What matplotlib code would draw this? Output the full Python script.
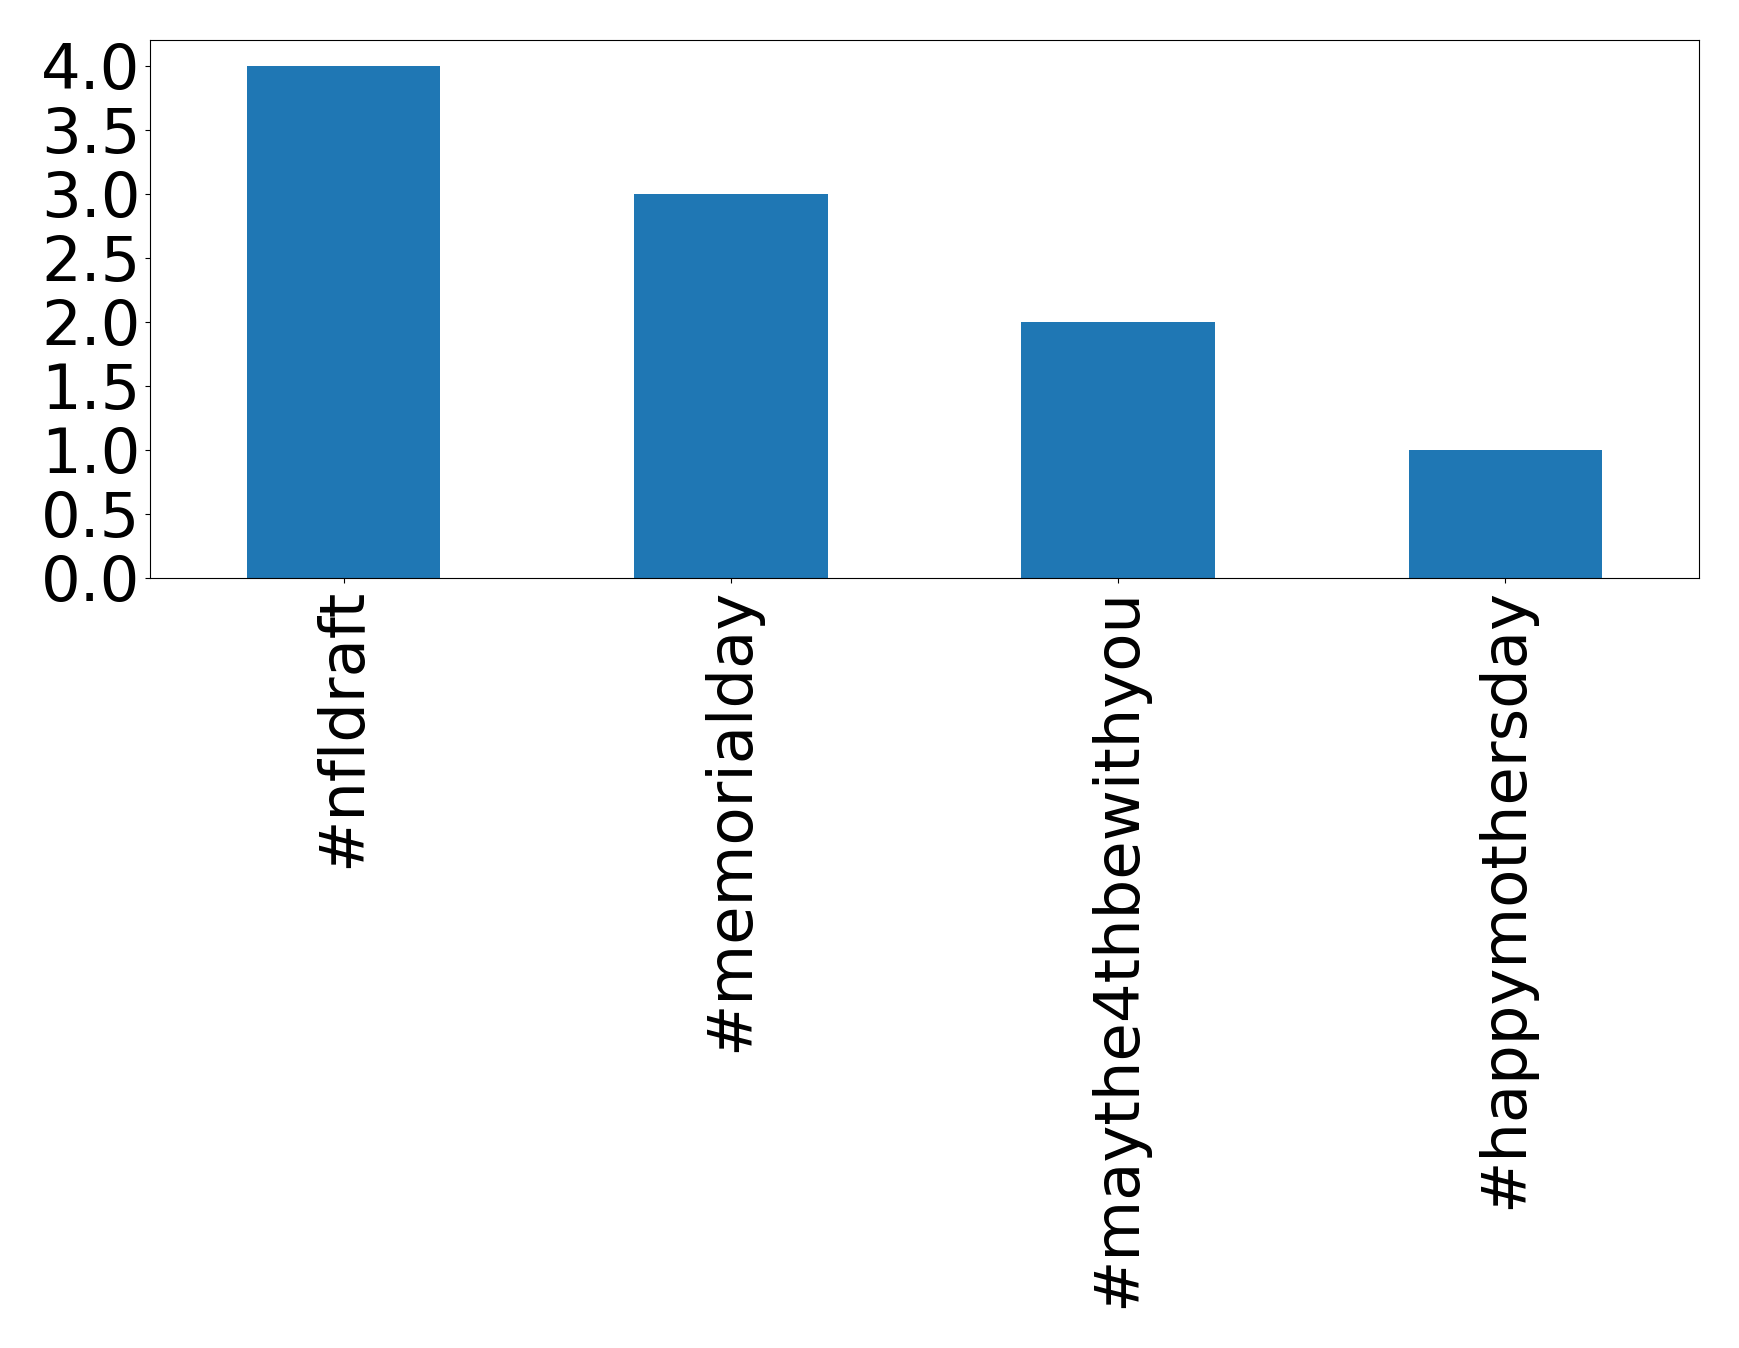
import matplotlib
matplotlib.use("Agg")
import matplotlib.pyplot as plt

categories = ["#nfldraft", "#memorialday", "#maythe4thbewithyou", "#happymothersday"]
values = [4, 3, 2, 1]

fig = plt.figure(figsize=(17.39, 13.48), dpi=100)
ax = fig.add_axes([150/1739, 1 - 578/1348, (1699-150)/1739, (578-40)/1348])
x = list(range(len(categories)))
ax.bar(x, values, width=0.5, color="#1f77b4")
ax.set_xlim(-0.5, len(categories) - 0.5)
ax.set_ylim(0, 4.2)
ax.set_yticks([0, 0.5, 1, 1.5, 2, 2.5, 3, 3.5, 4])
ax.set_yticklabels(["0.0", "0.5", "1.0", "1.5", "2.0", "2.5", "3.0", "3.5", "4.0"])
ax.set_xticks(x)
ax.set_xticklabels(categories, rotation=90)
ax.tick_params(axis="both", labelsize=45)
fig.savefig("out.png", dpi=100)
